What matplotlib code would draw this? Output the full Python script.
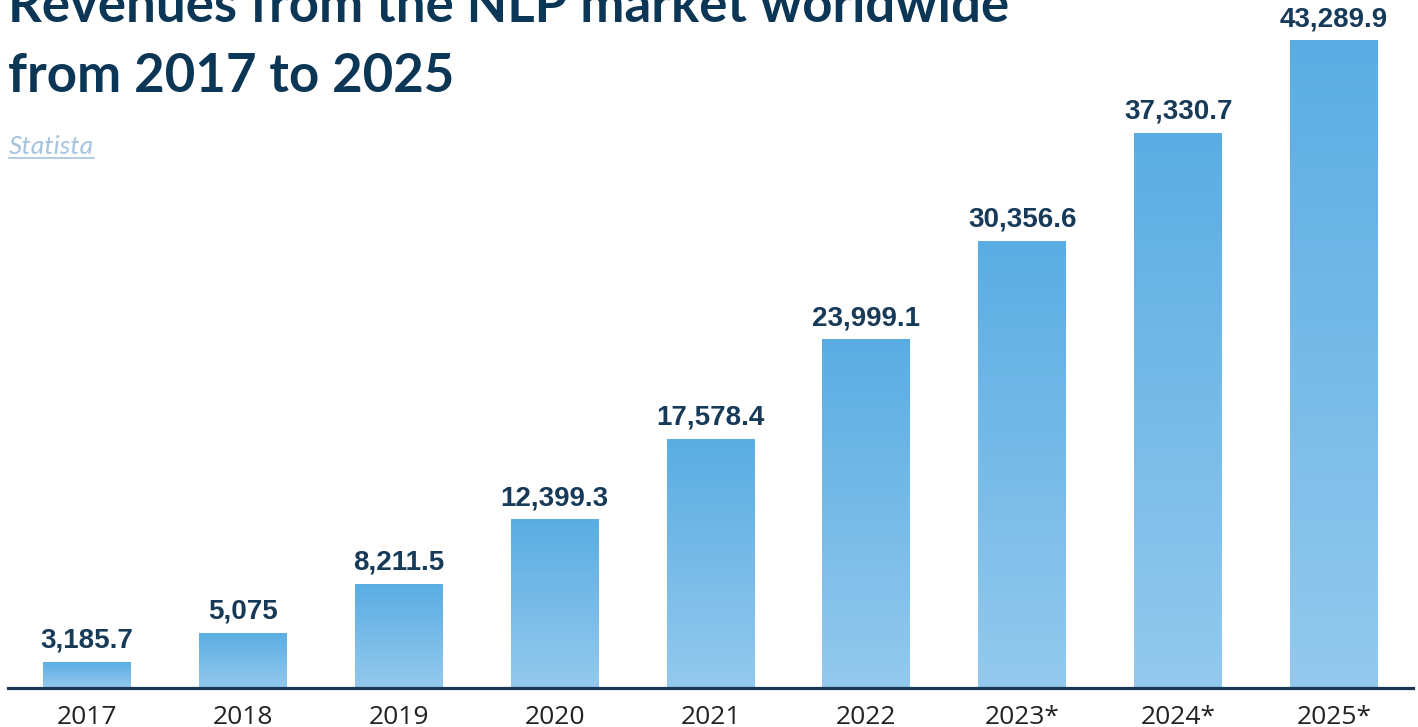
import numpy as np
import matplotlib
matplotlib.use('Agg')
import matplotlib.pyplot as plt
from matplotlib.colors import LinearSegmentedColormap
from matplotlib.lines import Line2D

# Data
years = ['2017', '2018', '2019', '2020', '2021', '2022', '2023*', '2024*', '2025*']
revenue = [3185.7, 5075, 8211.5, 12399.3, 17578.4, 23999.1, 30356.6, 37330.7, 43289.9]
value_labels = ['3,185.7', '5,075', '8,211.5', '12,399.3', '17,578.4',
                '23,999.1', '30,356.6', '37,330.7', '43,289.9']

navy = '#0b3656'
label_navy = '#173a59'
y_bottom = 1500
y_top = 45900

fig = plt.figure(figsize=(14.18, 7.27), dpi=100)
ax = fig.add_axes([8 / 1418, 1 - 688 / 727, 1405 / 1418, 688 / 727])

x = np.arange(len(years))
width = 0.564
cmap = LinearSegmentedColormap.from_list('bar', ['#94c9ed', '#5aade3'])
grad = np.linspace(0, 1, 256).reshape(-1, 1)

bars = ax.bar(x, revenue, width=width, color='none', edgecolor='none')
for b, v, lab in zip(bars, revenue, value_labels):
    x0 = b.get_x()
    im = ax.imshow(grad, extent=(x0, x0 + width, y_bottom, v), origin='lower',
                   cmap=cmap, aspect='auto', interpolation='bicubic', zorder=2)
    im.set_clip_path(b)
    ax.text(x0 + width / 2, v + 520, lab, ha='center', va='bottom',
            fontsize=20, fontweight='bold', color=label_navy,
            family='Liberation Sans')

ax.set_xlim(-0.507, len(years) - 1 + 0.507)
ax.set_ylim(y_bottom, y_top)
ax.set_xticks(x)
ax.set_xticklabels(years, fontsize=19, color='#222222', family='Open Sans')
ax.tick_params(axis='x', length=0, pad=12)
ax.set_yticks([])
for s in ['top', 'left', 'right']:
    ax.spines[s].set_visible(False)
ax.spines['bottom'].set_color('#1a3957')
ax.spines['bottom'].set_linewidth(2.3)
ax.spines['bottom'].set_zorder(3)

# Title and source
fig.text(8 / 1418, 1 - 22 / 727, 'Revenues from the NLP market worldwide',
         fontsize=38, fontweight='bold', color=navy, family='Lato',
         va='baseline', ha='left')
fig.text(8 / 1418, 1 - 92 / 727, 'from 2017 to 2025',
         fontsize=38, fontweight='bold', color=navy, family='Lato',
         va='baseline', ha='left')
src = fig.text(9 / 1418, 1 - 154 / 727, 'Statista', fontsize=19, style='italic',
               fontweight='normal', color='#a6c3df', family='Lato',
               va='baseline', ha='left')

# underline the source
fig.canvas.draw()
bb = src.get_window_extent().transformed(fig.transFigure.inverted())
uy = 1 - 158 / 727
fig.add_artist(Line2D([bb.x0, bb.x1], [uy, uy], transform=fig.transFigure,
                      color='#a6c3df', linewidth=1.2))

fig.savefig('out.png', dpi=100)
